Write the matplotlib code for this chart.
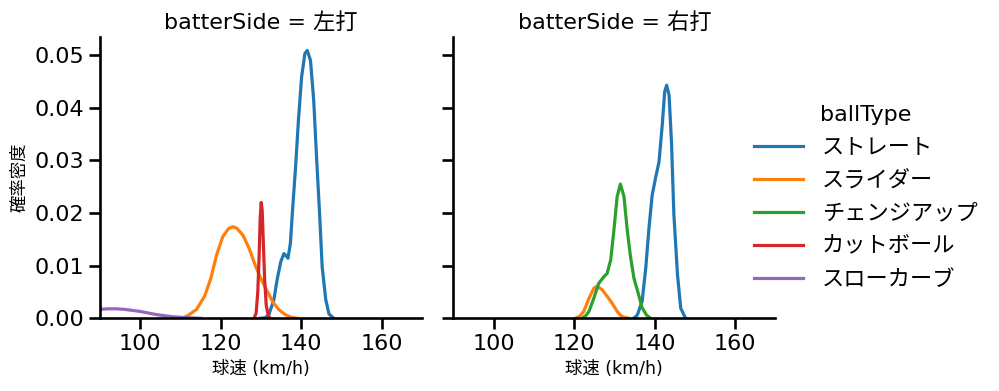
import matplotlib
matplotlib.use("Agg")
import matplotlib.pyplot as plt
from matplotlib.lines import Line2D

plt.rcParams['font.family'] = ['DejaVu Sans', 'Noto Sans CJK JP']

# 球種と色
ball_types = ["ストレート", "スライダー", "チェンジアップ", "カットボール", "スローカーブ"]
colors = ["#1f77b4", "#ff7f0e", "#2ca02c", "#d62728", "#9467bd"]

# 左打 (図から読み取った密度曲線)
left_straight_x = [129.8, 131.0, 131.9, 133.2, 134.0, 134.9, 135.7, 136.2, 136.7, 137.3, 137.9, 138.6, 139.3,
                   140.1, 140.9, 141.5, 142.3, 143.1, 143.8, 144.6, 145.2, 146.1, 146.9, 148.1]
left_straight_y = [0.0, 0.0001, 0.0006, 0.0035, 0.0073, 0.0107, 0.0123, 0.0119, 0.0114, 0.0142, 0.0212, 0.0288,
                   0.0376, 0.0459, 0.0503, 0.0509, 0.049, 0.0414, 0.0307, 0.0193, 0.0098, 0.0035, 0.0008, 0.0]
left_slider_x = [110.5, 112.0, 114.0, 116.0, 117.5, 119.0, 120.5, 122.0, 123.0, 124.0, 125.5, 127.0,
                 128.5, 130.0, 131.5, 133.0, 134.5, 136.0, 137.5, 139.0]
left_slider_y = [0.0, 0.0006, 0.0017, 0.0042, 0.0075, 0.0121, 0.0155, 0.0171, 0.0174, 0.0171, 0.0158, 0.0134,
                 0.0102, 0.0075, 0.0052, 0.003, 0.0016, 0.0007, 0.0002, 0.0]
left_cutter_x = [128.3, 128.8, 129.2, 129.5, 129.8, 130.05, 130.3, 130.6, 130.9, 131.3, 131.8, 132.3]
left_cutter_y = [0.0, 0.001, 0.005, 0.011, 0.019, 0.022, 0.0205, 0.014, 0.0075, 0.0025, 0.0005, 0.0]
left_curve_x = [86.0, 88.0, 90.0, 92.0, 94.0, 96.0, 98.0, 100.0, 102.0, 104.0, 106.0, 108.0, 110.0, 112.0, 115.0]
left_curve_y = [0.0013, 0.0015, 0.0017, 0.0018, 0.0018, 0.0017, 0.0015, 0.0013, 0.001, 0.0007, 0.0005,
                0.0003, 0.0002, 0.0001, 0.0]

# 右打
right_straight_x = [134.8, 135.7, 136.9, 137.8, 138.6, 139.4, 140.3, 141.1, 141.9, 142.5, 143.0, 143.6,
                    144.2, 144.8, 145.7, 146.5, 147.7]
right_straight_y = [0.0, 0.0006, 0.0032, 0.0095, 0.0171, 0.0234, 0.0269, 0.0297, 0.0367, 0.043, 0.0443, 0.0424,
                    0.0335, 0.0196, 0.0082, 0.0019, 0.0]
right_slider_x = [120.3, 121.4, 122.4, 123.7, 124.9, 125.7, 127.0, 128.2, 129.5, 130.7, 131.6, 132.4, 133.6]
right_slider_y = [0.0, 0.0004, 0.0013, 0.0038, 0.0057, 0.0061, 0.0054, 0.0042, 0.0028, 0.0013, 0.0005,
                  0.0002, 0.0]
right_change_x = [122.0, 122.9, 123.7, 124.9, 126.1, 127.4, 128.2, 129.1, 129.9, 130.7, 131.5, 132.4, 133.2,
                  134.0, 134.9, 135.7, 136.9, 138.0, 139.0]
right_change_y = [0.0, 0.0005, 0.0013, 0.0038, 0.0066, 0.0079, 0.0085, 0.0111, 0.0168, 0.0231, 0.0255, 0.0231,
                  0.0168, 0.0118, 0.0075, 0.0054, 0.002, 0.0006, 0.0]

fig = plt.figure(figsize=(9.99, 3.91), dpi=100)
ax1 = fig.add_axes([0.1001, 0.186, 0.3223, 0.720])
ax2 = fig.add_axes([0.4538, 0.186, 0.3223, 0.720], sharey=ax1)

lw = 2.3
style = dict(lw=lw, solid_joinstyle='round')
ax1.plot(left_straight_x, left_straight_y, color=colors[0], **style)
ax1.plot(left_slider_x, left_slider_y, color=colors[1], **style)
ax1.plot(left_cutter_x, left_cutter_y, color=colors[3], **style)
ax1.plot(left_curve_x, left_curve_y, color=colors[4], **style)

ax2.plot(right_straight_x, right_straight_y, color=colors[0], **style)
ax2.plot(right_slider_x, right_slider_y, color=colors[1], **style)
ax2.plot(right_change_x, right_change_y, color=colors[2], **style)

for ax, side in [(ax1, "左打"), (ax2, "右打")]:
    ax.set_xlim(90, 170)
    ax.set_ylim(0, 0.0535)
    ax.set_xticks([100, 120, 140, 160])
    ax.spines['top'].set_visible(False)
    ax.spines['right'].set_visible(False)
    for s in ['left', 'bottom']:
        ax.spines[s].set_linewidth(1.9)
    ax.tick_params(labelsize=16, width=1.9, length=8)
    ax.set_title("batterSide = " + side, fontsize=16)
    ax.set_xlabel("球速 (km/h)", fontsize=12.5)

ax1.set_yticks([0.0, 0.01, 0.02, 0.03, 0.04, 0.05])
ax1.set_yticklabels(["0.00", "0.01", "0.02", "0.03", "0.04", "0.05"])
ax1.set_ylabel("確率密度", fontsize=12.5)
ax2.tick_params(labelleft=False)

handles = [Line2D([], [], color=c, lw=lw) for c in colors]
leg = fig.legend(handles, ball_types, title="ballType", loc="center left",
                 bbox_to_anchor=(0.735, 0.496), frameon=False, fontsize=16,
                 title_fontsize=16, handlelength=2.2, handletextpad=0.85, labelspacing=0.58)

fig.savefig("out.png", dpi=100)
